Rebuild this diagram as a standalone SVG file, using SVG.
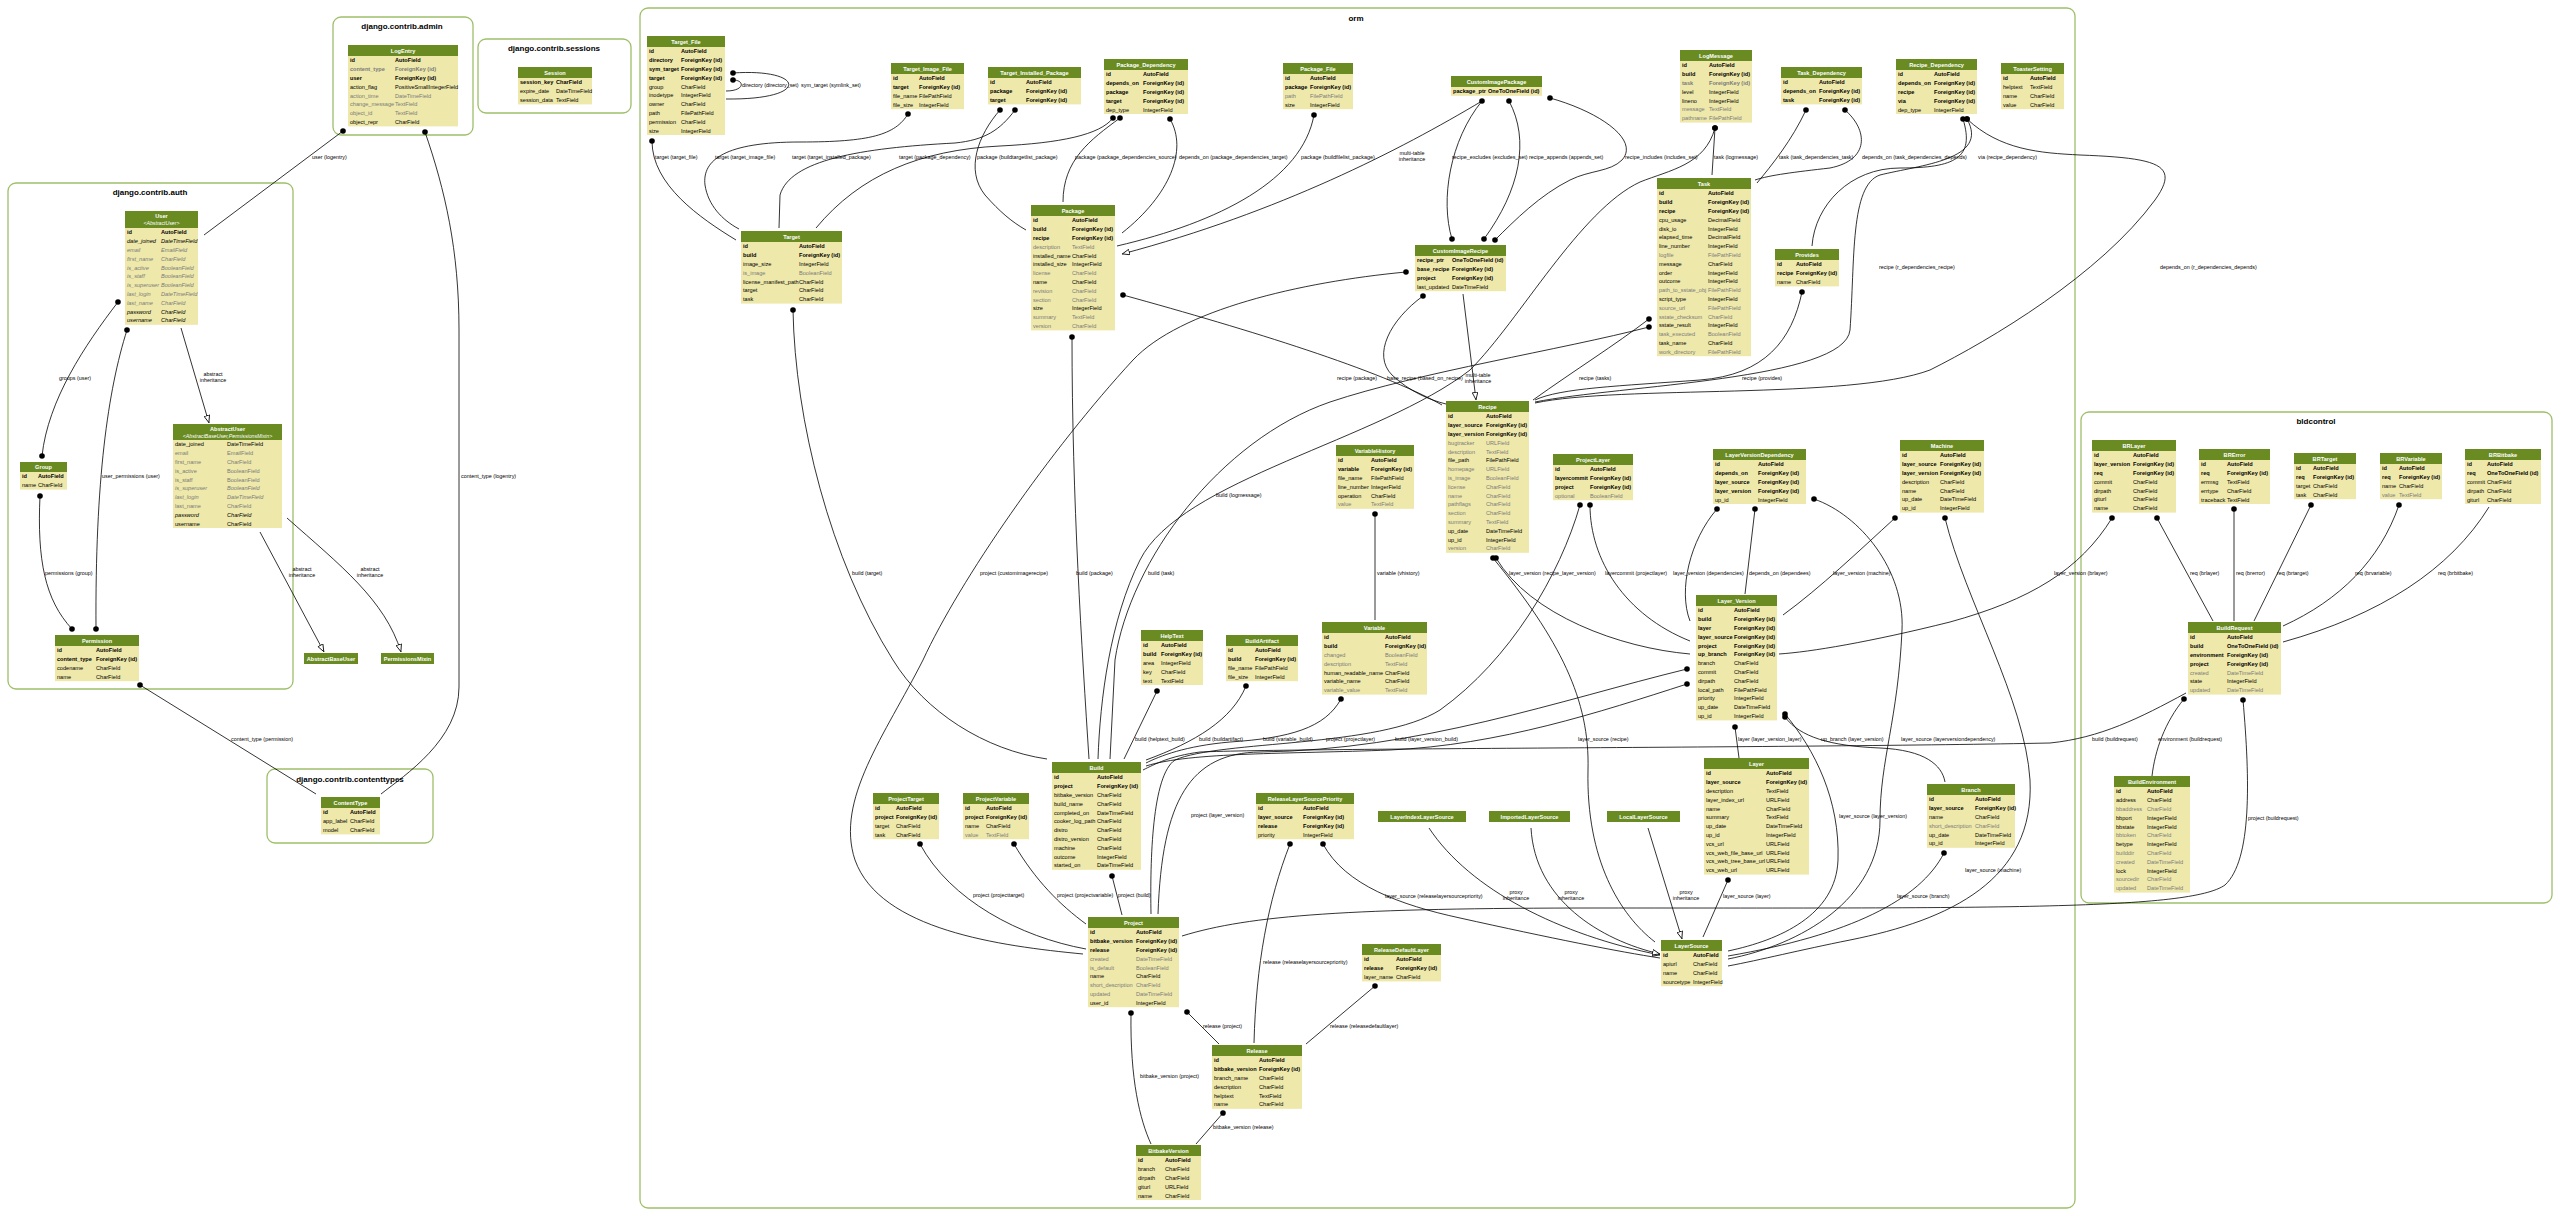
<svg xmlns="http://www.w3.org/2000/svg" width="2560" height="1217" viewBox="0 0 2560 1217">
<defs>
<marker id="d" viewBox="-3 -3 6 6" markerWidth="5.6" markerHeight="5.6" markerUnits="userSpaceOnUse"><circle r="3" fill="#000"/></marker>
<marker id="a" viewBox="0 0 10 8" refX="10" refY="4" markerWidth="8" markerHeight="6.4" markerUnits="userSpaceOnUse" orient="auto"><path d="M0.5,0.5 L9.5,4 L0.5,7.5 z" fill="#fff" stroke="#000" stroke-width="1"/></marker>
</defs>
<style>
text{font-family:"Liberation Sans",Arial,Helvetica,sans-serif;font-size:5.6px;fill:#000}
.hd{fill:#698b22}
.bd{fill:#eee8aa}
.h{fill:#fff;font-weight:bold;text-anchor:middle}
.hi{fill:#fff;font-style:italic;text-anchor:middle;font-size:5.2px}
.b{font-weight:bold}
.g{fill:#7b7b7b}
.i{font-style:italic}
.cl{fill:none;stroke:#9fbf6a;stroke-width:1.3}
.ct{font-size:8px;font-weight:bold;text-anchor:middle}
.e{fill:none;stroke:#000;stroke-width:0.8}
.s{marker-start:url(#d)}
.t{marker-end:url(#d)}
.k{marker-end:url(#a)}
.l{font-size:5.4px}
.m{text-anchor:middle}
</style>
<rect width="2560" height="1217" fill="#fff"/>
<g id="clusters">
<rect class="cl" x="333" y="17" width="140" height="118" rx="8"/><text class="ct" x="402" y="29">django.contrib.admin</text>
<rect class="cl" x="478" y="39" width="153" height="74" rx="8"/><text class="ct" x="554" y="51">django.contrib.sessions</text>
<rect class="cl" x="8" y="183" width="285" height="506" rx="8"/><text class="ct" x="150" y="195">django.contrib.auth</text>
<rect class="cl" x="267" y="769" width="166" height="74" rx="8"/><text class="ct" x="350" y="782">django.contrib.contenttypes</text>
<rect class="cl" x="640" y="8" width="1435" height="1200" rx="8"/><text class="ct" x="1356" y="21">orm</text>
<rect class="cl" x="2081" y="412" width="471" height="491" rx="8"/><text class="ct" x="2316" y="424">bldcontrol</text>
</g>
<g id="connectors">
<path class="e s" d="M343,131 L204,235"/><text class="l" x="312" y="159">user (logentry)</text>
<path class="e s" d="M425,132 C445,190 459,250 459,330 L459,687 C459,740 405,775 381,794"/><text class="l" x="461" y="478">content_type (logentry)</text>
<path class="e s t" d="M118,302 C85,345 48,400 42,456"/><text class="l" x="59" y="380">groups (user)</text>
<path class="e s t" d="M127,330 C108,390 95,480 96,629"/><text class="l" x="102" y="478">user_permissions (user)</text>
<path class="e k" d="M181,328 L209,423"/><text class="l m" x="213" y="376">abstract</text><text class="l m" x="213" y="382">inheritance</text>
<path class="e s t" d="M40,496 C37,560 45,600 72,629"/><text class="l" x="45" y="575">permissions (group)</text>
<path class="e s" d="M140,685 L316,794"/><text class="l" x="231" y="741">content_type (permission)</text>
<path class="e k" d="M260,532 L324,652"/><text class="l m" x="302" y="571">abstract</text><text class="l m" x="302" y="577">inheritance</text>
<path class="e k" d="M287,518 C340,565 385,600 401,652"/><text class="l m" x="370" y="571">abstract</text><text class="l m" x="370" y="577">inheritance</text>

<path class="e s" d="M733,80 C745,80 745,91 726,91"/><text class="l" x="742" y="87">directory (directory_set)</text>
<path class="e s" d="M733,73 C805,68 812,100 726,99"/><text class="l" x="801" y="87">sym_target (symlink_set)</text>
<path class="e s" d="M652,141 C652,185 700,218 736,240"/><text class="l" x="655" y="159">target (target_file)</text>
<path class="e s" d="M908,114 C895,135 870,142 800,142 C725,142 702,160 705,185 C708,205 722,220 739,229"/><text class="l" x="715" y="159">target (target_image_file)</text>
<path class="e s" d="M1015,110 C1000,130 985,140 955,143 C860,148 790,160 780,195 L779,228"/><text class="l" x="792" y="159">target (target_installed_package)</text>
<path class="e s" d="M1113,118 C1100,135 1060,143 1000,146 C920,150 860,175 816,228"/><text class="l" x="899" y="159">target (package_dependency)</text>
<path class="e s" d="M1000,110 C978,135 965,170 985,195 C1000,212 1012,222 1026,230"/><text class="l" x="977" y="159">package (buildtargetlist_package)</text>
<path class="e s" d="M1120,118 C1090,140 1063,160 1063,202"/><text class="l" x="1075" y="159">package (package_dependencies_source)</text>
<path class="e s" d="M1170,119 C1188,150 1170,195 1122,233"/><text class="l" x="1179" y="159">depends_on (package_dependencies_target)</text>
<path class="e s" d="M1314,115 C1302,180 1220,222 1117,246"/><text class="l" x="1301" y="159">package (buildfilelist_package)</text>
<path class="e k" d="M1482,101 C1400,150 1280,212 1122,254"/><text class="l m" x="1412" y="155">multi-table</text><text class="l m" x="1412" y="161">inheritance</text>
<path class="e s t" d="M1482,101 C1450,140 1440,200 1452,239"/><text class="l" x="1452" y="159">recipe_excludes (excludes_set)</text>
<path class="e s t" d="M1509,101 C1530,140 1520,190 1484,239"/><text class="l" x="1529" y="159">recipe_appends (appends_set)</text>
<path class="e s t" d="M1550,98 C1600,112 1640,140 1622,160 C1610,172 1590,170 1570,180 C1540,195 1515,220 1495,240"/><text class="l" x="1625" y="159">recipe_includes (includes_set)</text>
<path class="e s" d="M1715,128 L1712,175"/><text class="l" x="1714" y="159">task (logmessage)</text>
<path class="e s" d="M1715,128 C1705,165 1670,170 1640,182 C1580,210 1520,320 1470,370 C1380,440 1180,480 1140,560 C1110,620 1100,700 1098,759"/><text class="l" x="1216" y="497">build (logmessage)</text>
<path class="e s" d="M1806,110 C1792,140 1772,165 1757,183"/><text class="l" x="1779" y="159">task (task_dependencies_task)</text>
<path class="e s" d="M1845,110 C1868,130 1870,160 1830,168 C1795,172 1770,175 1755,180"/><text class="l" x="1862" y="159">depends_on (task_dependencies_depends)</text>
<path class="e s" d="M1963,119 C1975,158 1955,168 1900,168 C1850,168 1815,205 1812,246"/><text class="l" x="1978" y="159">via (recipe_dependency)</text>
<path class="e s" d="M1967,119 C1990,160 1920,165 1880,175 C1850,185 1855,260 1850,330 C1845,380 1620,385 1535,402"/><text class="l" x="1879" y="269">recipe (r_dependencies_recipe)</text>
<path class="e s" d="M1967,119 C2000,150 2040,153 2080,155 C2160,158 2180,165 2155,200 C2100,275 1990,340 1930,370 C1850,400 1620,385 1535,403"/><text class="l" x="2160" y="269">depends_on (r_dependencies_depends)</text>
<path class="e s" d="M1802,292 C1792,340 1765,375 1700,380 C1620,386 1560,388 1535,400"/><text class="l" x="1742" y="380">recipe (provides)</text>
<path class="e s" d="M1649,319 C1615,345 1575,370 1533,400"/><text class="l" x="1579" y="380">recipe (tasks)</text>
<path class="e s" d="M1649,327 C1560,350 1420,372 1330,402 C1220,440 1130,560 1115,660 L1110,759"/><text class="l" x="1148" y="575">build (task)</text>
<path class="e s" d="M1123,295 C1250,330 1380,370 1442,405"/><text class="l" x="1337" y="380">recipe (package)</text>
<path class="e s" d="M1423,296 C1390,320 1372,355 1392,375 C1410,392 1430,400 1446,404"/><text class="l" x="1387" y="380">base_recipe (based_on_recipe)</text>
<path class="e s" d="M1406,272 C1300,282 1180,310 1133,360 C1050,450 960,580 923,660 C885,735 835,800 855,860 C880,930 1000,946 1083,954"/><text class="l" x="980" y="575">project (customimagerecipe)</text>
<path class="e k" d="M1463,294 L1476,400"/><text class="l m" x="1478" y="377">multi-table</text><text class="l m" x="1478" y="383">inheritance</text>
<path class="e s" d="M1072,337 C1072,500 1082,650 1089,759"/><text class="l" x="1076" y="575">build (package)</text>
<path class="e s" d="M793,310 C795,420 830,560 893,660 C925,712 985,750 1047,759"/><text class="l" x="852" y="575">build (target)</text>
<path class="e s" d="M1157,691 L1124,759"/><text class="l" x="1135" y="741">build (helptext_build)</text>
<path class="e s" d="M1246,686 C1232,720 1195,742 1146,760"/><text class="l" x="1199" y="741">build (buildartifact)</text>
<path class="e s" d="M1341,699 C1325,728 1290,738 1230,742 C1185,746 1160,756 1146,763"/><text class="l" x="1263" y="741">build (variable_build)</text>
<path class="e s" d="M1375,514 L1375,620"/><text class="l" x="1377" y="575">variable (vhistory)</text>
<path class="e s" d="M1580,505 C1560,575 1510,660 1440,710 C1380,748 1220,740 1175,760 C1152,775 1150,860 1151,914"/><text class="l" x="1326" y="741">project (projectlayer)</text>
<path class="e s" d="M1687,669 C1560,700 1420,750 1260,752 C1190,753 1162,800 1158,914"/><text class="l" x="1191" y="817">project (layer_version)</text>
<path class="e s" d="M1687,684 C1600,712 1500,745 1390,750 C1290,754 1190,752 1146,766"/><text class="l" x="1395" y="741">build (layer_version_build)</text>
<path class="e s" d="M1590,505 C1590,560 1625,615 1690,641"/><text class="l" x="1605" y="575">layercommit (projectlayer)</text>
<path class="e s" d="M1496,558 C1530,615 1620,648 1690,654"/><text class="l" x="1509" y="575">layer_version (recipe_layer_version)</text>
<path class="e s" d="M1493,558 C1560,640 1590,700 1588,770 C1586,860 1620,915 1655,942"/><text class="l" x="1578" y="741">layer_source (recipe)</text>
<path class="e s" d="M1717,509 C1690,540 1678,590 1690,621"/><text class="l" x="1673" y="575">layer_version (dependencies)</text>
<path class="e s" d="M1755,509 L1745,594"/><text class="l" x="1749" y="575">depends_on (dependees)</text>
<path class="e s" d="M1814,499 C1860,515 1905,570 1902,630 C1898,720 1880,760 1880,820 C1880,900 1800,945 1728,959"/><text class="l" x="1901" y="741">layer_source (layerversiondependency)</text>
<path class="e s" d="M1895,518 C1860,550 1820,588 1783,615"/><text class="l" x="1833" y="575">layer_version (machine)</text>
<path class="e s" d="M1945,518 C1965,600 2025,700 2030,780 C2035,880 1950,920 1850,940 C1800,950 1760,960 1728,966"/><text class="l" x="1965" y="872">layer_source (machine)</text>
<path class="e s" d="M1735,727 L1739,758"/><text class="l" x="1738" y="741">layer (layer_version_layer)</text>
<path class="e s" d="M1785,717 C1800,737 1830,746 1880,748 C1925,750 1942,765 1945,782"/><text class="l" x="1821" y="741">up_branch (layer_version)</text>
<path class="e s" d="M1785,714 C1815,750 1840,800 1838,860 C1836,915 1780,940 1728,951"/><text class="l" x="1839" y="818">layer_source (layer_version)</text>
<path class="e s" d="M1728,880 L1703,937"/><text class="l" x="1723" y="898">layer_source (layer)</text>
<path class="e s" d="M1944,853 C1920,900 1850,935 1728,956"/><text class="l" x="1897" y="898">layer_source (branch)</text>
<path class="e s" d="M1323,844 C1345,885 1400,905 1460,918 C1550,938 1620,952 1660,958"/><text class="l" x="1385" y="898">layer_source (releaselayersourcepriority)</text>
<path class="e s" d="M1290,844 C1268,900 1256,965 1254,1043"/><text class="l" x="1263" y="964">release (releaselayersourcepriority)</text>
<path class="e k" d="M1429,828 C1470,890 1560,935 1660,955"/><text class="l m" x="1516" y="894">proxy</text><text class="l m" x="1516" y="900">inheritance</text>
<path class="e k" d="M1531,828 C1535,900 1600,940 1660,954"/><text class="l m" x="1571" y="894">proxy</text><text class="l m" x="1571" y="900">inheritance</text>
<path class="e k" d="M1648,828 L1682,939"/><text class="l m" x="1686" y="894">proxy</text><text class="l m" x="1686" y="900">inheritance</text>
<path class="e s" d="M1112,876 L1122,915"/><text class="l" x="1118" y="897">project (build)</text>
<path class="e s" d="M920,844 C950,900 1020,937 1086,949"/><text class="l" x="973" y="897">project (projecttarget)</text>
<path class="e s" d="M1014,844 C1035,880 1060,905 1086,924"/><text class="l" x="1057" y="897">project (projectvariable)</text>
<path class="e s" d="M1187,1012 L1219,1044"/><text class="l" x="1203" y="1028">release (project)</text>
<path class="e s" d="M1131,1013 C1130,1080 1140,1120 1151,1144"/><text class="l" x="1140" y="1078">bitbake_version (project)</text>
<path class="e s" d="M1375,986 L1306,1044"/><text class="l" x="1330" y="1028">release (releasedefaultlayer)</text>
<path class="e s" d="M1223,1113 L1196,1144"/><text class="l" x="1213" y="1129">bitbake_version (release)</text>
<path class="e" d="M2186,693 C2140,718 2100,738 2050,743 C1800,748 1300,748 1200,752 C1170,756 1155,764 1143,770"/><text class="l" x="2092" y="741">build (buildrequest)</text>
<path class="e s" d="M2184,699 C2165,722 2155,750 2152,776"/><text class="l" x="2158" y="741">environment (buildrequest)</text>
<path class="e s" d="M2243,700 C2250,780 2252,860 2225,885 C2190,910 2000,908 1600,908 C1350,908 1250,915 1182,936"/><text class="l" x="2248" y="820">project (buildrequest)</text>
<path class="e s" d="M2112,518 C2080,570 2030,600 1950,622 C1870,642 1810,652 1779,654"/><text class="l" x="2054" y="575">layer_version (brlayer)</text>
<path class="e s" d="M2157,518 L2213,621"/><text class="l" x="2190" y="575">req (brlayer)</text>
<path class="e s" d="M2234,509 L2234,621"/><text class="l" x="2236" y="575">req (brerror)</text>
<path class="e s" d="M2311,505 L2254,621"/><text class="l" x="2277" y="575">req (brtarget)</text>
<path class="e s" d="M2399,505 C2380,560 2340,600 2283,626"/><text class="l" x="2355" y="575">req (brvariable)</text>
<path class="e" d="M2489,507 C2450,570 2380,615 2283,642"/><text class="l" x="2438" y="575">req (brbitbake)</text>
</g>

<g id="n-LogEntry"><rect class="hd" x="348" y="45" width="110" height="11"/><rect class="bd" x="348" y="56" width="110" height="70.4"/><text class="h" x="403" y="52.6">LogEntry</text>
<text x="350" y="62.3"><tspan class="b">id</tspan><tspan x="350" dy="8.8" class="b g">content_type</tspan><tspan x="350" dy="8.8" class="b">user</tspan><tspan x="350" dy="8.8">action_flag</tspan><tspan x="350" dy="8.8" class="g">action_time</tspan><tspan x="350" dy="8.8" class="g">change_message</tspan><tspan x="350" dy="8.8" class="g">object_id</tspan><tspan x="350" dy="8.8">object_repr</tspan></text>
<text x="395" y="62.3"><tspan class="b">AutoField</tspan><tspan x="395" dy="8.8" class="b g">ForeignKey (id)</tspan><tspan x="395" dy="8.8" class="b">ForeignKey (id)</tspan><tspan x="395" dy="8.8">PositiveSmallIntegerField</tspan><tspan x="395" dy="8.8" class="g">DateTimeField</tspan><tspan x="395" dy="8.8" class="g">TextField</tspan><tspan x="395" dy="8.8" class="g">TextField</tspan><tspan x="395" dy="8.8">CharField</tspan></text></g>

<g id="n-Session"><rect class="hd" x="518" y="67" width="74" height="11"/><rect class="bd" x="518" y="78" width="74" height="26.4"/><text class="h" x="555" y="74.6">Session</text>
<text x="520" y="84.3"><tspan class="b">session_key</tspan><tspan x="520" dy="8.8">expire_date</tspan><tspan x="520" dy="8.8">session_data</tspan></text>
<text x="556" y="84.3"><tspan class="b">CharField</tspan><tspan x="556" dy="8.8">DateTimeField</tspan><tspan x="556" dy="8.8">TextField</tspan></text></g>

<g id="n-User"><rect class="hd" x="125" y="211" width="73" height="17"/><rect class="bd" x="125" y="228" width="73" height="96.8"/><text class="h" x="161.5" y="218">User</text><text class="hi" x="161.5" y="225">&lt;AbstractUser&gt;</text>
<text x="127" y="234.3"><tspan class="b">id</tspan><tspan x="127" dy="8.8" class="i">date_joined</tspan><tspan x="127" dy="8.8" class="g i">email</tspan><tspan x="127" dy="8.8" class="g i">first_name</tspan><tspan x="127" dy="8.8" class="g i">is_active</tspan><tspan x="127" dy="8.8" class="g i">is_staff</tspan><tspan x="127" dy="8.8" class="g i">is_superuser</tspan><tspan x="127" dy="8.8" class="g i">last_login</tspan><tspan x="127" dy="8.8" class="g i">last_name</tspan><tspan x="127" dy="8.8" class="i">password</tspan><tspan x="127" dy="8.8" class="i">username</tspan></text>
<text x="161" y="234.3"><tspan class="b">AutoField</tspan><tspan x="161" dy="8.8" class="i">DateTimeField</tspan><tspan x="161" dy="8.8" class="g i">EmailField</tspan><tspan x="161" dy="8.8" class="g i">CharField</tspan><tspan x="161" dy="8.8" class="g i">BooleanField</tspan><tspan x="161" dy="8.8" class="g i">BooleanField</tspan><tspan x="161" dy="8.8" class="g i">BooleanField</tspan><tspan x="161" dy="8.8" class="g i">DateTimeField</tspan><tspan x="161" dy="8.8" class="g i">CharField</tspan><tspan x="161" dy="8.8" class="i">CharField</tspan><tspan x="161" dy="8.8" class="i">CharField</tspan></text></g>

<g id="n-AbstractUser"><rect class="hd" x="173" y="424" width="109" height="16"/><rect class="bd" x="173" y="440" width="109" height="88"/><text class="h" x="227.5" y="431">AbstractUser</text><text class="hi" x="227.5" y="437.5">&lt;AbstractBaseUser,PermissionsMixin&gt;</text>
<text x="175" y="446.3"><tspan>date_joined</tspan><tspan x="175" dy="8.8" class="g">email</tspan><tspan x="175" dy="8.8" class="g">first_name</tspan><tspan x="175" dy="8.8" class="g">is_active</tspan><tspan x="175" dy="8.8" class="g">is_staff</tspan><tspan x="175" dy="8.8" class="g i">is_superuser</tspan><tspan x="175" dy="8.8" class="g i">last_login</tspan><tspan x="175" dy="8.8" class="g">last_name</tspan><tspan x="175" dy="8.8" class="i">password</tspan><tspan x="175" dy="8.8">username</tspan></text>
<text x="227" y="446.3"><tspan>DateTimeField</tspan><tspan x="227" dy="8.8" class="g">EmailField</tspan><tspan x="227" dy="8.8" class="g">CharField</tspan><tspan x="227" dy="8.8" class="g">BooleanField</tspan><tspan x="227" dy="8.8" class="g">BooleanField</tspan><tspan x="227" dy="8.8" class="g i">BooleanField</tspan><tspan x="227" dy="8.8" class="g i">DateTimeField</tspan><tspan x="227" dy="8.8" class="g">CharField</tspan><tspan x="227" dy="8.8" class="i">CharField</tspan><tspan x="227" dy="8.8">CharField</tspan></text></g>

<g id="n-Group"><rect class="hd" x="20" y="462" width="47" height="10"/><rect class="bd" x="20" y="472" width="47" height="17.6"/><text class="h" x="43.5" y="469.2">Group</text>
<text x="22" y="478.3"><tspan class="b">id</tspan><tspan x="22" dy="8.8">name</tspan></text>
<text x="38" y="478.3"><tspan class="b">AutoField</tspan><tspan x="38" dy="8.8">CharField</tspan></text></g>

<g id="n-Permission"><rect class="hd" x="55" y="635" width="84" height="11"/><rect class="bd" x="55" y="646" width="84" height="35.2"/><text class="h" x="97" y="642.6">Permission</text>
<text x="57" y="652.3"><tspan class="b">id</tspan><tspan x="57" dy="8.8" class="b">content_type</tspan><tspan x="57" dy="8.8">codename</tspan><tspan x="57" dy="8.8">name</tspan></text>
<text x="96" y="652.3"><tspan class="b">AutoField</tspan><tspan x="96" dy="8.8" class="b">ForeignKey (id)</tspan><tspan x="96" dy="8.8">CharField</tspan><tspan x="96" dy="8.8">CharField</tspan></text></g>

<g id="n-AbstractBaseUser"><rect class="hd" x="304" y="653" width="54" height="11"/><text class="h" x="331" y="660.6">AbstractBaseUser</text></g>
<g id="n-PermissionsMixin"><rect class="hd" x="381" y="653" width="53" height="11"/><text class="h" x="407.5" y="660.6">PermissionsMixin</text></g>

<g id="n-ContentType"><rect class="hd" x="321" y="797" width="59" height="11"/><rect class="bd" x="321" y="808" width="59" height="26.4"/><text class="h" x="350.5" y="804.6">ContentType</text>
<text x="323" y="814.3"><tspan class="b">id</tspan><tspan x="323" dy="8.8">app_label</tspan><tspan x="323" dy="8.8">model</tspan></text>
<text x="350" y="814.3"><tspan class="b">AutoField</tspan><tspan x="350" dy="8.8">CharField</tspan><tspan x="350" dy="8.8">CharField</tspan></text></g>

<g id="n-Target_File"><rect class="hd" x="647" y="36" width="78" height="11"/><rect class="bd" x="647" y="47" width="78" height="88"/><text class="h" x="686" y="43.6">Target_File</text>
<text x="649" y="53.3"><tspan class="b">id</tspan><tspan x="649" dy="8.8" class="b">directory</tspan><tspan x="649" dy="8.8" class="b">sym_target</tspan><tspan x="649" dy="8.8" class="b">target</tspan><tspan x="649" dy="8.8">group</tspan><tspan x="649" dy="8.8">inodetype</tspan><tspan x="649" dy="8.8">owner</tspan><tspan x="649" dy="8.8">path</tspan><tspan x="649" dy="8.8">permission</tspan><tspan x="649" dy="8.8">size</tspan></text>
<text x="681" y="53.3"><tspan class="b">AutoField</tspan><tspan x="681" dy="8.8" class="b">ForeignKey (id)</tspan><tspan x="681" dy="8.8" class="b">ForeignKey (id)</tspan><tspan x="681" dy="8.8" class="b">ForeignKey (id)</tspan><tspan x="681" dy="8.8">CharField</tspan><tspan x="681" dy="8.8">IntegerField</tspan><tspan x="681" dy="8.8">CharField</tspan><tspan x="681" dy="8.8">FilePathField</tspan><tspan x="681" dy="8.8">CharField</tspan><tspan x="681" dy="8.8">IntegerField</tspan></text></g>

<g id="n-Target_Image_File"><rect class="hd" x="891" y="63" width="73" height="11"/><rect class="bd" x="891" y="74" width="73" height="35.2"/><text class="h" x="927.5" y="70.6">Target_Image_File</text>
<text x="893" y="80.3"><tspan class="b">id</tspan><tspan x="893" dy="8.8" class="b">target</tspan><tspan x="893" dy="8.8">file_name</tspan><tspan x="893" dy="8.8">file_size</tspan></text>
<text x="919" y="80.3"><tspan class="b">AutoField</tspan><tspan x="919" dy="8.8" class="b">ForeignKey (id)</tspan><tspan x="919" dy="8.8">FilePathField</tspan><tspan x="919" dy="8.8">IntegerField</tspan></text></g>

<g id="n-Target_Installed_Package"><rect class="hd" x="988" y="67" width="93" height="11"/><rect class="bd" x="988" y="78" width="93" height="26.4"/><text class="h" x="1034.5" y="74.6">Target_Installed_Package</text>
<text x="990" y="84.3"><tspan class="b">id</tspan><tspan x="990" dy="8.8" class="b">package</tspan><tspan x="990" dy="8.8" class="b">target</tspan></text>
<text x="1026" y="84.3"><tspan class="b">AutoField</tspan><tspan x="1026" dy="8.8" class="b">ForeignKey (id)</tspan><tspan x="1026" dy="8.8" class="b">ForeignKey (id)</tspan></text></g>

<g id="n-Package_Dependency"><rect class="hd" x="1104" y="59" width="84" height="11"/><rect class="bd" x="1104" y="70" width="84" height="44"/><text class="h" x="1146" y="66.6">Package_Dependency</text>
<text x="1106" y="76.3"><tspan class="b">id</tspan><tspan x="1106" dy="8.8" class="b">depends_on</tspan><tspan x="1106" dy="8.8" class="b">package</tspan><tspan x="1106" dy="8.8" class="b">target</tspan><tspan x="1106" dy="8.8">dep_type</tspan></text>
<text x="1143" y="76.3"><tspan class="b">AutoField</tspan><tspan x="1143" dy="8.8" class="b">ForeignKey (id)</tspan><tspan x="1143" dy="8.8" class="b">ForeignKey (id)</tspan><tspan x="1143" dy="8.8" class="b">ForeignKey (id)</tspan><tspan x="1143" dy="8.8">IntegerField</tspan></text></g>

<g id="n-Package_File"><rect class="hd" x="1283" y="63" width="70" height="11"/><rect class="bd" x="1283" y="74" width="70" height="35.2"/><text class="h" x="1318" y="70.6">Package_File</text>
<text x="1285" y="80.3"><tspan class="b">id</tspan><tspan x="1285" dy="8.8" class="b">package</tspan><tspan x="1285" dy="8.8" class="g">path</tspan><tspan x="1285" dy="8.8">size</tspan></text>
<text x="1310" y="80.3"><tspan class="b">AutoField</tspan><tspan x="1310" dy="8.8" class="b">ForeignKey (id)</tspan><tspan x="1310" dy="8.8" class="g">FilePathField</tspan><tspan x="1310" dy="8.8">IntegerField</tspan></text></g>

<g id="n-CustomImagePackage"><rect class="hd" x="1451" y="76" width="91" height="11"/><rect class="bd" x="1451" y="87" width="91" height="8.8"/><text class="h" x="1496.5" y="83.6">CustomImagePackage</text>
<text x="1453" y="93.3" class="b">package_ptr</text><text x="1488" y="93.3" class="b">OneToOneField (id)</text></g>

<g id="n-LogMessage"><rect class="hd" x="1680" y="50" width="72" height="11"/><rect class="bd" x="1680" y="61" width="72" height="61.6"/><text class="h" x="1716" y="57.6">LogMessage</text>
<text x="1682" y="67.3"><tspan class="b">id</tspan><tspan x="1682" dy="8.8" class="b">build</tspan><tspan x="1682" dy="8.8" class="b g">task</tspan><tspan x="1682" dy="8.8">level</tspan><tspan x="1682" dy="8.8">lineno</tspan><tspan x="1682" dy="8.8" class="g">message</tspan><tspan x="1682" dy="8.8" class="g">pathname</tspan></text>
<text x="1709" y="67.3"><tspan class="b">AutoField</tspan><tspan x="1709" dy="8.8" class="b">ForeignKey (id)</tspan><tspan x="1709" dy="8.8" class="b g">ForeignKey (id)</tspan><tspan x="1709" dy="8.8">IntegerField</tspan><tspan x="1709" dy="8.8">IntegerField</tspan><tspan x="1709" dy="8.8" class="g">TextField</tspan><tspan x="1709" dy="8.8" class="g">FilePathField</tspan></text></g>

<g id="n-Task_Dependency"><rect class="hd" x="1781" y="67" width="81" height="11"/><rect class="bd" x="1781" y="78" width="81" height="26.4"/><text class="h" x="1821.5" y="74.6">Task_Dependency</text>
<text x="1783" y="84.3"><tspan class="b">id</tspan><tspan x="1783" dy="8.8" class="b">depends_on</tspan><tspan x="1783" dy="8.8" class="b">task</tspan></text>
<text x="1819" y="84.3"><tspan class="b">AutoField</tspan><tspan x="1819" dy="8.8" class="b">ForeignKey (id)</tspan><tspan x="1819" dy="8.8" class="b">ForeignKey (id)</tspan></text></g>

<g id="n-Recipe_Dependency"><rect class="hd" x="1896" y="59" width="81" height="11"/><rect class="bd" x="1896" y="70" width="81" height="44"/><text class="h" x="1936.5" y="66.6">Recipe_Dependency</text>
<text x="1898" y="76.3"><tspan class="b">id</tspan><tspan x="1898" dy="8.8" class="b">depends_on</tspan><tspan x="1898" dy="8.8" class="b">recipe</tspan><tspan x="1898" dy="8.8" class="b">via</tspan><tspan x="1898" dy="8.8">dep_type</tspan></text>
<text x="1934" y="76.3"><tspan class="b">AutoField</tspan><tspan x="1934" dy="8.8" class="b">ForeignKey (id)</tspan><tspan x="1934" dy="8.8" class="b">ForeignKey (id)</tspan><tspan x="1934" dy="8.8" class="b">ForeignKey (id)</tspan><tspan x="1934" dy="8.8">IntegerField</tspan></text></g>

<g id="n-ToasterSetting"><rect class="hd" x="2001" y="63" width="63" height="11"/><rect class="bd" x="2001" y="74" width="63" height="35.2"/><text class="h" x="2032.5" y="70.6">ToasterSetting</text>
<text x="2003" y="80.3"><tspan class="b">id</tspan><tspan x="2003" dy="8.8">helptext</tspan><tspan x="2003" dy="8.8">name</tspan><tspan x="2003" dy="8.8">value</tspan></text>
<text x="2030" y="80.3"><tspan class="b">AutoField</tspan><tspan x="2030" dy="8.8">TextField</tspan><tspan x="2030" dy="8.8">CharField</tspan><tspan x="2030" dy="8.8">CharField</tspan></text></g>

<g id="n-Target"><rect class="hd" x="741" y="231" width="101" height="11"/><rect class="bd" x="741" y="242" width="101" height="61.6"/><text class="h" x="791.5" y="238.6">Target</text>
<text x="743" y="248.3"><tspan class="b">id</tspan><tspan x="743" dy="8.8" class="b">build</tspan><tspan x="743" dy="8.8">image_size</tspan><tspan x="743" dy="8.8" class="g">is_image</tspan><tspan x="743" dy="8.8">license_manifest_path</tspan><tspan x="743" dy="8.8">target</tspan><tspan x="743" dy="8.8">task</tspan></text>
<text x="799" y="248.3"><tspan class="b">AutoField</tspan><tspan x="799" dy="8.8" class="b">ForeignKey (id)</tspan><tspan x="799" dy="8.8">IntegerField</tspan><tspan x="799" dy="8.8" class="g">BooleanField</tspan><tspan x="799" dy="8.8">CharField</tspan><tspan x="799" dy="8.8">CharField</tspan><tspan x="799" dy="8.8">CharField</tspan></text></g>

<g id="n-Package"><rect class="hd" x="1031" y="205" width="84" height="11"/><rect class="bd" x="1031" y="216" width="84" height="114.4"/><text class="h" x="1073" y="212.6">Package</text>
<text x="1033" y="222.3"><tspan class="b">id</tspan><tspan x="1033" dy="8.8" class="b">build</tspan><tspan x="1033" dy="8.8" class="b">recipe</tspan><tspan x="1033" dy="8.8" class="g">description</tspan><tspan x="1033" dy="8.8">installed_name</tspan><tspan x="1033" dy="8.8">installed_size</tspan><tspan x="1033" dy="8.8" class="g">license</tspan><tspan x="1033" dy="8.8">name</tspan><tspan x="1033" dy="8.8" class="g">revision</tspan><tspan x="1033" dy="8.8" class="g">section</tspan><tspan x="1033" dy="8.8">size</tspan><tspan x="1033" dy="8.8" class="g">summary</tspan><tspan x="1033" dy="8.8" class="g">version</tspan></text>
<text x="1072" y="222.3"><tspan class="b">AutoField</tspan><tspan x="1072" dy="8.8" class="b">ForeignKey (id)</tspan><tspan x="1072" dy="8.8" class="b">ForeignKey (id)</tspan><tspan x="1072" dy="8.8" class="g">TextField</tspan><tspan x="1072" dy="8.8">CharField</tspan><tspan x="1072" dy="8.8">IntegerField</tspan><tspan x="1072" dy="8.8" class="g">CharField</tspan><tspan x="1072" dy="8.8">CharField</tspan><tspan x="1072" dy="8.8" class="g">CharField</tspan><tspan x="1072" dy="8.8" class="g">CharField</tspan><tspan x="1072" dy="8.8">IntegerField</tspan><tspan x="1072" dy="8.8" class="g">TextField</tspan><tspan x="1072" dy="8.8" class="g">CharField</tspan></text></g>

<g id="n-CustomImageRecipe"><rect class="hd" x="1415" y="245" width="91" height="11"/><rect class="bd" x="1415" y="256" width="91" height="35.2"/><text class="h" x="1460.5" y="252.6">CustomImageRecipe</text>
<text x="1417" y="262.3"><tspan class="b">recipe_ptr</tspan><tspan x="1417" dy="8.8" class="b">base_recipe</tspan><tspan x="1417" dy="8.8" class="b">project</tspan><tspan x="1417" dy="8.8">last_updated</tspan></text>
<text x="1452" y="262.3"><tspan class="b">OneToOneField (id)</tspan><tspan x="1452" dy="8.8" class="b">ForeignKey (id)</tspan><tspan x="1452" dy="8.8" class="b">ForeignKey (id)</tspan><tspan x="1452" dy="8.8">DateTimeField</tspan></text></g>

<g id="n-Task"><rect class="hd" x="1657" y="178" width="94" height="11"/><rect class="bd" x="1657" y="189" width="94" height="167.2"/><text class="h" x="1704" y="185.6">Task</text>
<text x="1659" y="195.3"><tspan class="b">id</tspan><tspan x="1659" dy="8.8" class="b">build</tspan><tspan x="1659" dy="8.8" class="b">recipe</tspan><tspan x="1659" dy="8.8">cpu_usage</tspan><tspan x="1659" dy="8.8">disk_io</tspan><tspan x="1659" dy="8.8">elapsed_time</tspan><tspan x="1659" dy="8.8">line_number</tspan><tspan x="1659" dy="8.8" class="g">logfile</tspan><tspan x="1659" dy="8.8">message</tspan><tspan x="1659" dy="8.8">order</tspan><tspan x="1659" dy="8.8">outcome</tspan><tspan x="1659" dy="8.8" class="g">path_to_sstate_obj</tspan><tspan x="1659" dy="8.8">script_type</tspan><tspan x="1659" dy="8.8" class="g">source_url</tspan><tspan x="1659" dy="8.8" class="g">sstate_checksum</tspan><tspan x="1659" dy="8.8">sstate_result</tspan><tspan x="1659" dy="8.8" class="g">task_executed</tspan><tspan x="1659" dy="8.8">task_name</tspan><tspan x="1659" dy="8.8" class="g">work_directory</tspan></text>
<text x="1708" y="195.3"><tspan class="b">AutoField</tspan><tspan x="1708" dy="8.8" class="b">ForeignKey (id)</tspan><tspan x="1708" dy="8.8" class="b">ForeignKey (id)</tspan><tspan x="1708" dy="8.8">DecimalField</tspan><tspan x="1708" dy="8.8">IntegerField</tspan><tspan x="1708" dy="8.8">DecimalField</tspan><tspan x="1708" dy="8.8">IntegerField</tspan><tspan x="1708" dy="8.8" class="g">FilePathField</tspan><tspan x="1708" dy="8.8">CharField</tspan><tspan x="1708" dy="8.8">IntegerField</tspan><tspan x="1708" dy="8.8">IntegerField</tspan><tspan x="1708" dy="8.8" class="g">FilePathField</tspan><tspan x="1708" dy="8.8">IntegerField</tspan><tspan x="1708" dy="8.8" class="g">FilePathField</tspan><tspan x="1708" dy="8.8" class="g">CharField</tspan><tspan x="1708" dy="8.8">IntegerField</tspan><tspan x="1708" dy="8.8" class="g">BooleanField</tspan><tspan x="1708" dy="8.8">CharField</tspan><tspan x="1708" dy="8.8" class="g">FilePathField</tspan></text></g>

<g id="n-Provides"><rect class="hd" x="1775" y="249" width="64" height="11"/><rect class="bd" x="1775" y="260" width="64" height="26.4"/><text class="h" x="1807" y="256.6">Provides</text>
<text x="1777" y="266.3"><tspan class="b">id</tspan><tspan x="1777" dy="8.8" class="b">recipe</tspan><tspan x="1777" dy="8.8">name</tspan></text>
<text x="1796" y="266.3"><tspan class="b">AutoField</tspan><tspan x="1796" dy="8.8" class="b">ForeignKey (id)</tspan><tspan x="1796" dy="8.8">CharField</tspan></text></g>

<g id="n-Recipe"><rect class="hd" x="1446" y="401" width="83" height="11"/><rect class="bd" x="1446" y="412" width="83" height="140.8"/><text class="h" x="1487.5" y="408.6">Recipe</text>
<text x="1448" y="418.3"><tspan class="b">id</tspan><tspan x="1448" dy="8.8" class="b">layer_source</tspan><tspan x="1448" dy="8.8" class="b">layer_version</tspan><tspan x="1448" dy="8.8" class="g">bugtracker</tspan><tspan x="1448" dy="8.8" class="g">description</tspan><tspan x="1448" dy="8.8">file_path</tspan><tspan x="1448" dy="8.8" class="g">homepage</tspan><tspan x="1448" dy="8.8" class="g">is_image</tspan><tspan x="1448" dy="8.8" class="g">license</tspan><tspan x="1448" dy="8.8" class="g">name</tspan><tspan x="1448" dy="8.8" class="g">pathflags</tspan><tspan x="1448" dy="8.8" class="g">section</tspan><tspan x="1448" dy="8.8" class="g">summary</tspan><tspan x="1448" dy="8.8">up_date</tspan><tspan x="1448" dy="8.8">up_id</tspan><tspan x="1448" dy="8.8" class="g">version</tspan></text>
<text x="1486" y="418.3"><tspan class="b">AutoField</tspan><tspan x="1486" dy="8.8" class="b">ForeignKey (id)</tspan><tspan x="1486" dy="8.8" class="b">ForeignKey (id)</tspan><tspan x="1486" dy="8.8" class="g">URLField</tspan><tspan x="1486" dy="8.8" class="g">TextField</tspan><tspan x="1486" dy="8.8">FilePathField</tspan><tspan x="1486" dy="8.8" class="g">URLField</tspan><tspan x="1486" dy="8.8" class="g">BooleanField</tspan><tspan x="1486" dy="8.8" class="g">CharField</tspan><tspan x="1486" dy="8.8" class="g">CharField</tspan><tspan x="1486" dy="8.8" class="g">CharField</tspan><tspan x="1486" dy="8.8" class="g">CharField</tspan><tspan x="1486" dy="8.8" class="g">TextField</tspan><tspan x="1486" dy="8.8">DateTimeField</tspan><tspan x="1486" dy="8.8">IntegerField</tspan><tspan x="1486" dy="8.8" class="g">CharField</tspan></text></g>

<g id="n-VariableHistory"><rect class="hd" x="1336" y="445" width="78" height="11"/><rect class="bd" x="1336" y="456" width="78" height="52.8"/><text class="h" x="1375" y="452.6">VariableHistory</text>
<text x="1338" y="462.3"><tspan class="b">id</tspan><tspan x="1338" dy="8.8" class="b">variable</tspan><tspan x="1338" dy="8.8">file_name</tspan><tspan x="1338" dy="8.8">line_number</tspan><tspan x="1338" dy="8.8">operation</tspan><tspan x="1338" dy="8.8" class="g">value</tspan></text>
<text x="1371" y="462.3"><tspan class="b">AutoField</tspan><tspan x="1371" dy="8.8" class="b">ForeignKey (id)</tspan><tspan x="1371" dy="8.8">FilePathField</tspan><tspan x="1371" dy="8.8">IntegerField</tspan><tspan x="1371" dy="8.8">CharField</tspan><tspan x="1371" dy="8.8" class="g">TextField</tspan></text></g>

<g id="n-ProjectLayer"><rect class="hd" x="1553" y="454" width="80" height="11"/><rect class="bd" x="1553" y="465" width="80" height="35.2"/><text class="h" x="1593" y="461.6">ProjectLayer</text>
<text x="1555" y="471.3"><tspan class="b">id</tspan><tspan x="1555" dy="8.8" class="b">layercommit</tspan><tspan x="1555" dy="8.8" class="b">project</tspan><tspan x="1555" dy="8.8" class="g">optional</tspan></text>
<text x="1590" y="471.3"><tspan class="b">AutoField</tspan><tspan x="1590" dy="8.8" class="b">ForeignKey (id)</tspan><tspan x="1590" dy="8.8" class="b">ForeignKey (id)</tspan><tspan x="1590" dy="8.8" class="g">BooleanField</tspan></text></g>

<g id="n-LayerVersionDependency"><rect class="hd" x="1713" y="449" width="93" height="11"/><rect class="bd" x="1713" y="460" width="93" height="44"/><text class="h" x="1759.5" y="456.6">LayerVersionDependency</text>
<text x="1715" y="466.3"><tspan class="b">id</tspan><tspan x="1715" dy="8.8" class="b">depends_on</tspan><tspan x="1715" dy="8.8" class="b">layer_source</tspan><tspan x="1715" dy="8.8" class="b">layer_version</tspan><tspan x="1715" dy="8.8">up_id</tspan></text>
<text x="1758" y="466.3"><tspan class="b">AutoField</tspan><tspan x="1758" dy="8.8" class="b">ForeignKey (id)</tspan><tspan x="1758" dy="8.8" class="b">ForeignKey (id)</tspan><tspan x="1758" dy="8.8" class="b">ForeignKey (id)</tspan><tspan x="1758" dy="8.8">IntegerField</tspan></text></g>

<g id="n-Machine"><rect class="hd" x="1900" y="440" width="84" height="11"/><rect class="bd" x="1900" y="451" width="84" height="61.6"/><text class="h" x="1942" y="447.6">Machine</text>
<text x="1902" y="457.3"><tspan class="b">id</tspan><tspan x="1902" dy="8.8" class="b">layer_source</tspan><tspan x="1902" dy="8.8" class="b">layer_version</tspan><tspan x="1902" dy="8.8">description</tspan><tspan x="1902" dy="8.8">name</tspan><tspan x="1902" dy="8.8">up_date</tspan><tspan x="1902" dy="8.8">up_id</tspan></text>
<text x="1940" y="457.3"><tspan class="b">AutoField</tspan><tspan x="1940" dy="8.8" class="b">ForeignKey (id)</tspan><tspan x="1940" dy="8.8" class="b">ForeignKey (id)</tspan><tspan x="1940" dy="8.8">CharField</tspan><tspan x="1940" dy="8.8">CharField</tspan><tspan x="1940" dy="8.8">DateTimeField</tspan><tspan x="1940" dy="8.8">IntegerField</tspan></text></g>

<g id="n-Variable"><rect class="hd" x="1322" y="622" width="105" height="11"/><rect class="bd" x="1322" y="633" width="105" height="61.6"/><text class="h" x="1374.5" y="629.6">Variable</text>
<text x="1324" y="639.3"><tspan class="b">id</tspan><tspan x="1324" dy="8.8" class="b">build</tspan><tspan x="1324" dy="8.8" class="g">changed</tspan><tspan x="1324" dy="8.8" class="g">description</tspan><tspan x="1324" dy="8.8">human_readable_name</tspan><tspan x="1324" dy="8.8">variable_name</tspan><tspan x="1324" dy="8.8" class="g">variable_value</tspan></text>
<text x="1385" y="639.3"><tspan class="b">AutoField</tspan><tspan x="1385" dy="8.8" class="b">ForeignKey (id)</tspan><tspan x="1385" dy="8.8" class="g">BooleanField</tspan><tspan x="1385" dy="8.8" class="g">TextField</tspan><tspan x="1385" dy="8.8">CharField</tspan><tspan x="1385" dy="8.8">CharField</tspan><tspan x="1385" dy="8.8" class="g">TextField</tspan></text></g>

<g id="n-HelpText"><rect class="hd" x="1141" y="630" width="62" height="11"/><rect class="bd" x="1141" y="641" width="62" height="44"/><text class="h" x="1172" y="637.6">HelpText</text>
<text x="1143" y="647.3"><tspan class="b">id</tspan><tspan x="1143" dy="8.8" class="b">build</tspan><tspan x="1143" dy="8.8">area</tspan><tspan x="1143" dy="8.8">key</tspan><tspan x="1143" dy="8.8">text</tspan></text>
<text x="1161" y="647.3"><tspan class="b">AutoField</tspan><tspan x="1161" dy="8.8" class="b">ForeignKey (id)</tspan><tspan x="1161" dy="8.8">IntegerField</tspan><tspan x="1161" dy="8.8">CharField</tspan><tspan x="1161" dy="8.8">TextField</tspan></text></g>

<g id="n-BuildArtifact"><rect class="hd" x="1226" y="635" width="72" height="11"/><rect class="bd" x="1226" y="646" width="72" height="35.2"/><text class="h" x="1262" y="642.6">BuildArtifact</text>
<text x="1228" y="652.3"><tspan class="b">id</tspan><tspan x="1228" dy="8.8" class="b">build</tspan><tspan x="1228" dy="8.8">file_name</tspan><tspan x="1228" dy="8.8">file_size</tspan></text>
<text x="1255" y="652.3"><tspan class="b">AutoField</tspan><tspan x="1255" dy="8.8" class="b">ForeignKey (id)</tspan><tspan x="1255" dy="8.8">FilePathField</tspan><tspan x="1255" dy="8.8">IntegerField</tspan></text></g>

<g id="n-Layer_Version"><rect class="hd" x="1696" y="595" width="81" height="11"/><rect class="bd" x="1696" y="606" width="81" height="114.4"/><text class="h" x="1736.5" y="602.6">Layer_Version</text>
<text x="1698" y="612.3"><tspan class="b">id</tspan><tspan x="1698" dy="8.8" class="b">build</tspan><tspan x="1698" dy="8.8" class="b">layer</tspan><tspan x="1698" dy="8.8" class="b">layer_source</tspan><tspan x="1698" dy="8.8" class="b">project</tspan><tspan x="1698" dy="8.8" class="b">up_branch</tspan><tspan x="1698" dy="8.8">branch</tspan><tspan x="1698" dy="8.8">commit</tspan><tspan x="1698" dy="8.8">dirpath</tspan><tspan x="1698" dy="8.8">local_path</tspan><tspan x="1698" dy="8.8">priority</tspan><tspan x="1698" dy="8.8">up_date</tspan><tspan x="1698" dy="8.8">up_id</tspan></text>
<text x="1734" y="612.3"><tspan class="b">AutoField</tspan><tspan x="1734" dy="8.8" class="b">ForeignKey (id)</tspan><tspan x="1734" dy="8.8" class="b">ForeignKey (id)</tspan><tspan x="1734" dy="8.8" class="b">ForeignKey (id)</tspan><tspan x="1734" dy="8.8" class="b">ForeignKey (id)</tspan><tspan x="1734" dy="8.8" class="b">ForeignKey (id)</tspan><tspan x="1734" dy="8.8">CharField</tspan><tspan x="1734" dy="8.8">CharField</tspan><tspan x="1734" dy="8.8">CharField</tspan><tspan x="1734" dy="8.8">FilePathField</tspan><tspan x="1734" dy="8.8">IntegerField</tspan><tspan x="1734" dy="8.8">DateTimeField</tspan><tspan x="1734" dy="8.8">IntegerField</tspan></text></g>

<g id="n-Build"><rect class="hd" x="1052" y="762" width="89" height="11"/><rect class="bd" x="1052" y="773" width="89" height="96.8"/><text class="h" x="1096.5" y="769.6">Build</text>
<text x="1054" y="779.3"><tspan class="b">id</tspan><tspan x="1054" dy="8.8" class="b">project</tspan><tspan x="1054" dy="8.8">bitbake_version</tspan><tspan x="1054" dy="8.8">build_name</tspan><tspan x="1054" dy="8.8">completed_on</tspan><tspan x="1054" dy="8.8">cooker_log_path</tspan><tspan x="1054" dy="8.8">distro</tspan><tspan x="1054" dy="8.8">distro_version</tspan><tspan x="1054" dy="8.8">machine</tspan><tspan x="1054" dy="8.8">outcome</tspan><tspan x="1054" dy="8.8">started_on</tspan></text>
<text x="1097" y="779.3"><tspan class="b">AutoField</tspan><tspan x="1097" dy="8.8" class="b">ForeignKey (id)</tspan><tspan x="1097" dy="8.8">CharField</tspan><tspan x="1097" dy="8.8">CharField</tspan><tspan x="1097" dy="8.8">DateTimeField</tspan><tspan x="1097" dy="8.8">CharField</tspan><tspan x="1097" dy="8.8">CharField</tspan><tspan x="1097" dy="8.8">CharField</tspan><tspan x="1097" dy="8.8">CharField</tspan><tspan x="1097" dy="8.8">IntegerField</tspan><tspan x="1097" dy="8.8">DateTimeField</tspan></text></g>

<g id="n-ProjectTarget"><rect class="hd" x="873" y="793" width="66" height="11"/><rect class="bd" x="873" y="804" width="66" height="35.2"/><text class="h" x="906" y="800.6">ProjectTarget</text>
<text x="875" y="810.3"><tspan class="b">id</tspan><tspan x="875" dy="8.8" class="b">project</tspan><tspan x="875" dy="8.8">target</tspan><tspan x="875" dy="8.8">task</tspan></text>
<text x="896" y="810.3"><tspan class="b">AutoField</tspan><tspan x="896" dy="8.8" class="b">ForeignKey (id)</tspan><tspan x="896" dy="8.8">CharField</tspan><tspan x="896" dy="8.8">CharField</tspan></text></g>

<g id="n-ProjectVariable"><rect class="hd" x="963" y="793" width="66" height="11"/><rect class="bd" x="963" y="804" width="66" height="35.2"/><text class="h" x="996" y="800.6">ProjectVariable</text>
<text x="965" y="810.3"><tspan class="b">id</tspan><tspan x="965" dy="8.8" class="b">project</tspan><tspan x="965" dy="8.8">name</tspan><tspan x="965" dy="8.8" class="g">value</tspan></text>
<text x="986" y="810.3"><tspan class="b">AutoField</tspan><tspan x="986" dy="8.8" class="b">ForeignKey (id)</tspan><tspan x="986" dy="8.8">CharField</tspan><tspan x="986" dy="8.8" class="g">TextField</tspan></text></g>

<g id="n-ReleaseLayerSourcePriority"><rect class="hd" x="1256" y="793" width="98" height="11"/><rect class="bd" x="1256" y="804" width="98" height="35.2"/><text class="h" x="1305" y="800.6">ReleaseLayerSourcePriority</text>
<text x="1258" y="810.3"><tspan class="b">id</tspan><tspan x="1258" dy="8.8" class="b">layer_source</tspan><tspan x="1258" dy="8.8" class="b">release</tspan><tspan x="1258" dy="8.8">priority</tspan></text>
<text x="1303" y="810.3"><tspan class="b">AutoField</tspan><tspan x="1303" dy="8.8" class="b">ForeignKey (id)</tspan><tspan x="1303" dy="8.8" class="b">ForeignKey (id)</tspan><tspan x="1303" dy="8.8">IntegerField</tspan></text></g>

<g id="n-Layer"><rect class="hd" x="1704" y="758" width="105" height="11"/><rect class="bd" x="1704" y="769" width="105" height="105.6"/><text class="h" x="1756.5" y="765.6">Layer</text>
<text x="1706" y="775.3"><tspan class="b">id</tspan><tspan x="1706" dy="8.8" class="b">layer_source</tspan><tspan x="1706" dy="8.8">description</tspan><tspan x="1706" dy="8.8">layer_index_url</tspan><tspan x="1706" dy="8.8">name</tspan><tspan x="1706" dy="8.8">summary</tspan><tspan x="1706" dy="8.8">up_date</tspan><tspan x="1706" dy="8.8">up_id</tspan><tspan x="1706" dy="8.8">vcs_url</tspan><tspan x="1706" dy="8.8">vcs_web_file_base_url</tspan><tspan x="1706" dy="8.8">vcs_web_tree_base_url</tspan><tspan x="1706" dy="8.8">vcs_web_url</tspan></text>
<text x="1766" y="775.3"><tspan class="b">AutoField</tspan><tspan x="1766" dy="8.8" class="b">ForeignKey (id)</tspan><tspan x="1766" dy="8.8">TextField</tspan><tspan x="1766" dy="8.8">URLField</tspan><tspan x="1766" dy="8.8">CharField</tspan><tspan x="1766" dy="8.8">TextField</tspan><tspan x="1766" dy="8.8">DateTimeField</tspan><tspan x="1766" dy="8.8">IntegerField</tspan><tspan x="1766" dy="8.8">URLField</tspan><tspan x="1766" dy="8.8">URLField</tspan><tspan x="1766" dy="8.8">URLField</tspan><tspan x="1766" dy="8.8">URLField</tspan></text></g>

<g id="n-Branch"><rect class="hd" x="1927" y="784" width="88" height="11"/><rect class="bd" x="1927" y="795" width="88" height="52.8"/><text class="h" x="1971" y="791.6">Branch</text>
<text x="1929" y="801.3"><tspan class="b">id</tspan><tspan x="1929" dy="8.8" class="b">layer_source</tspan><tspan x="1929" dy="8.8">name</tspan><tspan x="1929" dy="8.8" class="g">short_description</tspan><tspan x="1929" dy="8.8">up_date</tspan><tspan x="1929" dy="8.8">up_id</tspan></text>
<text x="1975" y="801.3"><tspan class="b">AutoField</tspan><tspan x="1975" dy="8.8" class="b">ForeignKey (id)</tspan><tspan x="1975" dy="8.8">CharField</tspan><tspan x="1975" dy="8.8" class="g">CharField</tspan><tspan x="1975" dy="8.8">DateTimeField</tspan><tspan x="1975" dy="8.8">IntegerField</tspan></text></g>

<g id="n-Project"><rect class="hd" x="1088" y="917" width="91" height="11"/><rect class="bd" x="1088" y="928" width="91" height="79.2"/><text class="h" x="1133.5" y="924.6">Project</text>
<text x="1090" y="934.3"><tspan class="b">id</tspan><tspan x="1090" dy="8.8" class="b">bitbake_version</tspan><tspan x="1090" dy="8.8" class="b">release</tspan><tspan x="1090" dy="8.8" class="g">created</tspan><tspan x="1090" dy="8.8" class="g">is_default</tspan><tspan x="1090" dy="8.8">name</tspan><tspan x="1090" dy="8.8" class="g">short_description</tspan><tspan x="1090" dy="8.8" class="g">updated</tspan><tspan x="1090" dy="8.8">user_id</tspan></text>
<text x="1136" y="934.3"><tspan class="b">AutoField</tspan><tspan x="1136" dy="8.8" class="b">ForeignKey (id)</tspan><tspan x="1136" dy="8.8" class="b">ForeignKey (id)</tspan><tspan x="1136" dy="8.8" class="g">DateTimeField</tspan><tspan x="1136" dy="8.8" class="g">BooleanField</tspan><tspan x="1136" dy="8.8">CharField</tspan><tspan x="1136" dy="8.8" class="g">CharField</tspan><tspan x="1136" dy="8.8" class="g">DateTimeField</tspan><tspan x="1136" dy="8.8">IntegerField</tspan></text></g>

<g id="n-LayerIndexLayerSource"><rect class="hd" x="1378" y="811" width="88" height="11"/><text class="h" x="1422" y="818.6">LayerIndexLayerSource</text></g>
<g id="n-ImportedLayerSource"><rect class="hd" x="1489" y="811" width="81" height="11"/><text class="h" x="1529.5" y="818.6">ImportedLayerSource</text></g>
<g id="n-LocalLayerSource"><rect class="hd" x="1607" y="811" width="73" height="11"/><text class="h" x="1643.5" y="818.6">LocalLayerSource</text></g>

<g id="n-LayerSource"><rect class="hd" x="1661" y="940" width="61" height="11"/><rect class="bd" x="1661" y="951" width="61" height="35.2"/><text class="h" x="1691.5" y="947.6">LayerSource</text>
<text x="1663" y="957.3"><tspan class="b">id</tspan><tspan x="1663" dy="8.8">apiurl</tspan><tspan x="1663" dy="8.8">name</tspan><tspan x="1663" dy="8.8">sourcetype</tspan></text>
<text x="1693" y="957.3"><tspan class="b">AutoField</tspan><tspan x="1693" dy="8.8">CharField</tspan><tspan x="1693" dy="8.8">CharField</tspan><tspan x="1693" dy="8.8">IntegerField</tspan></text></g>

<g id="n-ReleaseDefaultLayer"><rect class="hd" x="1362" y="944" width="79" height="11"/><rect class="bd" x="1362" y="955" width="79" height="26.4"/><text class="h" x="1401.5" y="951.6">ReleaseDefaultLayer</text>
<text x="1364" y="961.3"><tspan class="b">id</tspan><tspan x="1364" dy="8.8" class="b">release</tspan><tspan x="1364" dy="8.8">layer_name</tspan></text>
<text x="1396" y="961.3"><tspan class="b">AutoField</tspan><tspan x="1396" dy="8.8" class="b">ForeignKey (id)</tspan><tspan x="1396" dy="8.8">CharField</tspan></text></g>

<g id="n-Release"><rect class="hd" x="1212" y="1045" width="90" height="11"/><rect class="bd" x="1212" y="1056" width="90" height="52.8"/><text class="h" x="1257" y="1052.6">Release</text>
<text x="1214" y="1062.3"><tspan class="b">id</tspan><tspan x="1214" dy="8.8" class="b">bitbake_version</tspan><tspan x="1214" dy="8.8">branch_name</tspan><tspan x="1214" dy="8.8">description</tspan><tspan x="1214" dy="8.8">helptext</tspan><tspan x="1214" dy="8.8">name</tspan></text>
<text x="1259" y="1062.3"><tspan class="b">AutoField</tspan><tspan x="1259" dy="8.8" class="b">ForeignKey (id)</tspan><tspan x="1259" dy="8.8">CharField</tspan><tspan x="1259" dy="8.8">CharField</tspan><tspan x="1259" dy="8.8">TextField</tspan><tspan x="1259" dy="8.8">CharField</tspan></text></g>

<g id="n-BitbakeVersion"><rect class="hd" x="1136" y="1145" width="65" height="11"/><rect class="bd" x="1136" y="1156" width="65" height="44"/><text class="h" x="1168.5" y="1152.6">BitbakeVersion</text>
<text x="1138" y="1162.3"><tspan class="b">id</tspan><tspan x="1138" dy="8.8">branch</tspan><tspan x="1138" dy="8.8">dirpath</tspan><tspan x="1138" dy="8.8">giturl</tspan><tspan x="1138" dy="8.8">name</tspan></text>
<text x="1165" y="1162.3"><tspan class="b">AutoField</tspan><tspan x="1165" dy="8.8">CharField</tspan><tspan x="1165" dy="8.8">CharField</tspan><tspan x="1165" dy="8.8">URLField</tspan><tspan x="1165" dy="8.8">CharField</tspan></text></g>

<g id="n-BRLayer"><rect class="hd" x="2092" y="440" width="84" height="11"/><rect class="bd" x="2092" y="451" width="84" height="61.6"/><text class="h" x="2134" y="447.6">BRLayer</text>
<text x="2094" y="457.3"><tspan class="b">id</tspan><tspan x="2094" dy="8.8" class="b">layer_version</tspan><tspan x="2094" dy="8.8" class="b">req</tspan><tspan x="2094" dy="8.8">commit</tspan><tspan x="2094" dy="8.8">dirpath</tspan><tspan x="2094" dy="8.8">giturl</tspan><tspan x="2094" dy="8.8">name</tspan></text>
<text x="2133" y="457.3"><tspan class="b">AutoField</tspan><tspan x="2133" dy="8.8" class="b">ForeignKey (id)</tspan><tspan x="2133" dy="8.8" class="b">ForeignKey (id)</tspan><tspan x="2133" dy="8.8">CharField</tspan><tspan x="2133" dy="8.8">CharField</tspan><tspan x="2133" dy="8.8">CharField</tspan><tspan x="2133" dy="8.8">CharField</tspan></text></g>

<g id="n-BRError"><rect class="hd" x="2199" y="449" width="71" height="11"/><rect class="bd" x="2199" y="460" width="71" height="44"/><text class="h" x="2234.5" y="456.6">BRError</text>
<text x="2201" y="466.3"><tspan class="b">id</tspan><tspan x="2201" dy="8.8" class="b">req</tspan><tspan x="2201" dy="8.8">errmsg</tspan><tspan x="2201" dy="8.8">errtype</tspan><tspan x="2201" dy="8.8">traceback</tspan></text>
<text x="2227" y="466.3"><tspan class="b">AutoField</tspan><tspan x="2227" dy="8.8" class="b">ForeignKey (id)</tspan><tspan x="2227" dy="8.8">TextField</tspan><tspan x="2227" dy="8.8">CharField</tspan><tspan x="2227" dy="8.8">TextField</tspan></text></g>

<g id="n-BRTarget"><rect class="hd" x="2294" y="453" width="62" height="11"/><rect class="bd" x="2294" y="464" width="62" height="35.2"/><text class="h" x="2325" y="460.6">BRTarget</text>
<text x="2296" y="470.3"><tspan class="b">id</tspan><tspan x="2296" dy="8.8" class="b">req</tspan><tspan x="2296" dy="8.8">target</tspan><tspan x="2296" dy="8.8">task</tspan></text>
<text x="2313" y="470.3"><tspan class="b">AutoField</tspan><tspan x="2313" dy="8.8" class="b">ForeignKey (id)</tspan><tspan x="2313" dy="8.8">CharField</tspan><tspan x="2313" dy="8.8">CharField</tspan></text></g>

<g id="n-BRVariable"><rect class="hd" x="2380" y="453" width="62" height="11"/><rect class="bd" x="2380" y="464" width="62" height="35.2"/><text class="h" x="2411" y="460.6">BRVariable</text>
<text x="2382" y="470.3"><tspan class="b">id</tspan><tspan x="2382" dy="8.8" class="b">req</tspan><tspan x="2382" dy="8.8">name</tspan><tspan x="2382" dy="8.8" class="g">value</tspan></text>
<text x="2399" y="470.3"><tspan class="b">AutoField</tspan><tspan x="2399" dy="8.8" class="b">ForeignKey (id)</tspan><tspan x="2399" dy="8.8">CharField</tspan><tspan x="2399" dy="8.8" class="g">TextField</tspan></text></g>

<g id="n-BRBitbake"><rect class="hd" x="2465" y="449" width="76" height="11"/><rect class="bd" x="2465" y="460" width="76" height="44"/><text class="h" x="2503" y="456.6">BRBitbake</text>
<text x="2467" y="466.3"><tspan class="b">id</tspan><tspan x="2467" dy="8.8" class="b">req</tspan><tspan x="2467" dy="8.8">commit</tspan><tspan x="2467" dy="8.8">dirpath</tspan><tspan x="2467" dy="8.8">giturl</tspan></text>
<text x="2487" y="466.3"><tspan class="b">AutoField</tspan><tspan x="2487" dy="8.8" class="b">OneToOneField (id)</tspan><tspan x="2487" dy="8.8">CharField</tspan><tspan x="2487" dy="8.8">CharField</tspan><tspan x="2487" dy="8.8">CharField</tspan></text></g>

<g id="n-BuildRequest"><rect class="hd" x="2188" y="622" width="93" height="11"/><rect class="bd" x="2188" y="633" width="93" height="61.6"/><text class="h" x="2234.5" y="629.6">BuildRequest</text>
<text x="2190" y="639.3"><tspan class="b">id</tspan><tspan x="2190" dy="8.8" class="b">build</tspan><tspan x="2190" dy="8.8" class="b">environment</tspan><tspan x="2190" dy="8.8" class="b">project</tspan><tspan x="2190" dy="8.8" class="g">created</tspan><tspan x="2190" dy="8.8">state</tspan><tspan x="2190" dy="8.8" class="g">updated</tspan></text>
<text x="2227" y="639.3"><tspan class="b">AutoField</tspan><tspan x="2227" dy="8.8" class="b">OneToOneField (id)</tspan><tspan x="2227" dy="8.8" class="b">ForeignKey (id)</tspan><tspan x="2227" dy="8.8" class="b">ForeignKey (id)</tspan><tspan x="2227" dy="8.8" class="g">DateTimeField</tspan><tspan x="2227" dy="8.8">IntegerField</tspan><tspan x="2227" dy="8.8" class="g">DateTimeField</tspan></text></g>

<g id="n-BuildEnvironment"><rect class="hd" x="2114" y="776" width="76" height="11"/><rect class="bd" x="2114" y="787" width="76" height="105.6"/><text class="h" x="2152" y="783.6">BuildEnvironment</text>
<text x="2116" y="793.3"><tspan class="b">id</tspan><tspan x="2116" dy="8.8">address</tspan><tspan x="2116" dy="8.8" class="g">bbaddress</tspan><tspan x="2116" dy="8.8">bbport</tspan><tspan x="2116" dy="8.8">bbstate</tspan><tspan x="2116" dy="8.8" class="g">bbtoken</tspan><tspan x="2116" dy="8.8">betype</tspan><tspan x="2116" dy="8.8" class="g">builddir</tspan><tspan x="2116" dy="8.8" class="g">created</tspan><tspan x="2116" dy="8.8">lock</tspan><tspan x="2116" dy="8.8" class="g">sourcedir</tspan><tspan x="2116" dy="8.8" class="g">updated</tspan></text>
<text x="2147" y="793.3"><tspan class="b">AutoField</tspan><tspan x="2147" dy="8.8">CharField</tspan><tspan x="2147" dy="8.8" class="g">CharField</tspan><tspan x="2147" dy="8.8">IntegerField</tspan><tspan x="2147" dy="8.8">IntegerField</tspan><tspan x="2147" dy="8.8" class="g">CharField</tspan><tspan x="2147" dy="8.8">IntegerField</tspan><tspan x="2147" dy="8.8" class="g">CharField</tspan><tspan x="2147" dy="8.8" class="g">DateTimeField</tspan><tspan x="2147" dy="8.8">IntegerField</tspan><tspan x="2147" dy="8.8" class="g">CharField</tspan><tspan x="2147" dy="8.8" class="g">DateTimeField</tspan></text></g>
</svg>
